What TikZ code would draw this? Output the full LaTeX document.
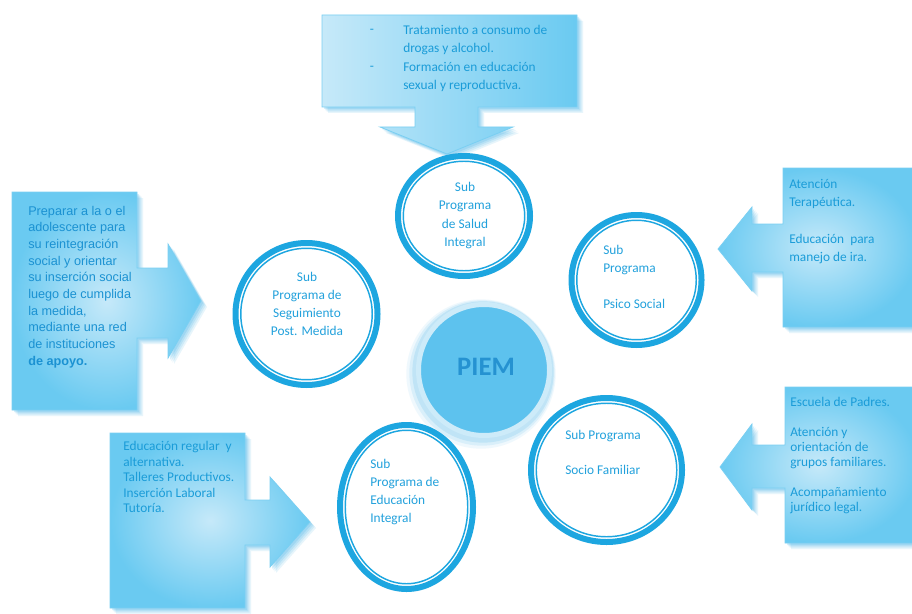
\documentclass[tikz,border=0pt]{standalone}
\usepackage{fontspec}
\setmainfont{Carlito}
\newfontfamily\arialf{Liberation Sans}
\usetikzlibrary{shapes.geometric}
\definecolor{ringc}{HTML}{1DA6E0}
\definecolor{circtxt}{HTML}{22A1DC}
\definecolor{calltxt}{HTML}{1A9CD8}
\definecolor{lefttxt}{HTML}{1B92D2}
\definecolor{boxlight}{HTML}{C6E9F9}
\definecolor{boxdark}{HTML}{6ACAF1}
\definecolor{boxedge}{HTML}{7ACFF2}
\definecolor{shadowc}{HTML}{3FB0E6}
\definecolor{piemfill}{HTML}{5DC2EE}
\definecolor{piemring}{HTML}{CDEBF9}
\definecolor{piemtxt}{HTML}{2592D1}
\tikzset{
  calloutshape/.style={
    preaction={fill=shadowc, opacity=0.12, transform canvas={shift={(4.5pt,-4.5pt)}}},
    preaction={fill=shadowc, opacity=0.14, transform canvas={shift={(3.5pt,-3.5pt)}}},
    preaction={fill=shadowc, opacity=0.16, transform canvas={shift={(2.5pt,-2.5pt)}}},
    preaction={fill=shadowc, opacity=0.2, transform canvas={shift={(1.5pt,-1.5pt)}}},
    draw=boxedge, line width=0.6pt},
  radialbox/.style={calloutshape, inner color=boxlight, outer color=boxdark},
  axisbox/.style={calloutshape, left color=boxlight, right color=boxdark},
  ring/.style={ellipse, draw=ringc, line width=4.5pt, fill=white, inner sep=0pt},
  innerring/.style={draw=ringc, line width=1.1pt},
  circtext/.style={text=circtxt, inner sep=0pt, font=\fontsize{10}{13.5}\selectfont},
  calltext/.style={text=calltxt, inner sep=0pt, align=left, anchor=west}
}
\begin{document}
\begin{tikzpicture}[x=0.75pt,y=-0.75pt]
\useasboundingbox (0,0) rectangle (912,613);
\fill[white] (0,0) rectangle (912,613);

% ---- callout arrows ----
\path[axisbox] (322,15) -- (577,15) -- (577,107) -- (478,107) -- (478,127) -- (513,127)
  -- (447,154) -- (380,127) -- (415,127) -- (415,107) -- (322,107) -- cycle;
\path[radialbox] (12,192) -- (137,192) -- (137,268) -- (168,268) -- (168,244) -- (201,301)
  -- (168,358) -- (168,338) -- (137,338) -- (137,410) -- (12,410) -- cycle;
\path[radialbox] (918,168) -- (783,168) -- (783,224) -- (752,224) -- (752,207) -- (718,249)
  -- (752,291) -- (752,272) -- (783,272) -- (783,327) -- (918,327) -- cycle;
\path[radialbox] (918,387) -- (785,387) -- (785,445) -- (752,445) -- (752,424) -- (720,467)
  -- (752,510) -- (752,488) -- (785,488) -- (785,543) -- (918,543) -- cycle;
\path[radialbox] (110,433) -- (245,433) -- (245,500) -- (270,500) -- (270,477) -- (310,522)
  -- (270,567) -- (270,545) -- (245,545) -- (245,608) -- (110,608) -- cycle;

% ---- callout texts ----
\node[text=calltxt, inner sep=0pt] (dash1) at (372,31) {-};
\node[text=calltxt, inner sep=0pt] (dash2) at (372,68) {-};
\node[calltext, font=\fontsize{10}{13.6}\selectfont] (toptxt) at (403,58.5)
  {Tratamiento a consumo de\\drogas y alcohol.\\Formación en educación\\sexual y reproductiva.};
\node[calltext, text=lefttxt, font=\arialf\fontsize{9.5}{12.5}\selectfont] (lefttext) at (28,287)
  {Preparar a la o el\\adolescente para\\su reintegración\\social y orientar\\su inserción social\\luego de cumplida\\la medida,\\mediante una red\\de instituciones\\\textbf{de apoyo.}};
\node[calltext, font=\fontsize{10}{13.5}\selectfont] (rtoptxt) at (789,221.5)
  {Atención\\Terapéutica.\\[13.8pt]Educación~~para\\manejo de ira.};
\node[calltext, font=\fontsize{10}{11.25}\selectfont] (rbottxt) at (790,455.5)
  {Escuela de Padres.\\[10.9pt]Atención y\\orientación de\\grupos familiares.\\[10.9pt]Acompañamiento\\jurídico legal.};
\node[calltext, font=\fontsize{10}{11.6}\selectfont] (lbottxt) at (123,477)
  {Educación regular~~y\\alternativa.\\Talleres Productivos.\\Inserción Laboral\\Tutoría.};

% ---- sub-program rings ----
\node[ring, minimum width=99pt, minimum height=90pt] (salud) at (464,216) {};
\draw[innerring] (salud.center) ellipse [x radius=45.56pt, y radius=41.06pt];
\node[ring, minimum width=97.5pt, minimum height=97.5pt] (psico) at (636.5,280) {};
\draw[innerring] (psico.center) ellipse [x radius=44.8pt, y radius=44.8pt];
\node[ring, minimum width=113.25pt, minimum height=108pt] (socio) at (606.5,470) {};
\draw[innerring] (socio.center) ellipse [x radius=52.7pt, y radius=50.06pt];
\node[ring, minimum width=99.75pt, minimum height=123pt] (educ) at (406.5,507) {};
\draw[innerring] (educ.center) ellipse [x radius=45.94pt, y radius=57.56pt];
\node[ring, minimum width=106.5pt, minimum height=106.5pt] (segui) at (306.5,314) {};
\draw[innerring] (segui.center) ellipse [x radius=49.3pt, y radius=49.3pt];

% ---- PIEM ----
\fill[shadowc, opacity=0.08] (481,374) circle [radius=56pt];
\fill[shadowc, opacity=0.12] (482,373) circle [radius=54.5pt];
\fill[shadowc, opacity=0.16] (483,372) circle [radius=53pt];
\node[circle, fill=piemfill, draw=piemring, line width=3.75pt, minimum size=98.25pt, inner sep=0pt] (piem) at (484,370) {};
\node[text=piemtxt, font=\bfseries\fontsize{20}{24}\selectfont, inner sep=0pt] (piemlabel) at (486,367) {PIEM};

% ---- ring texts ----
\node[circtext, align=center, font=\fontsize{10}{13.75}\selectfont] (saludtxt) at (465,215.5)
  {Sub\\Programa\\de Salud\\Integral};
\node[circtext, align=center] (seguitxt) at (307,304)
  {Sub\\Programa de\\Seguimiento\\Post. Medida};
\node[circtext, align=left, anchor=west] (psicotxt) at (603,276.5)
  {Sub\\Programa\\[13.5pt]Psico Social};
\node[circtext, align=left, anchor=west, font=\fontsize{10}{13.1}\selectfont] (sociotxt) at (565,452.5)
  {Sub Programa\\[13.1pt]Socio Familiar};
\node[circtext, align=left, anchor=west] (eductxt) at (370,492)
  {Sub\\Programa de\\Educación\\Integral};
\end{tikzpicture}
\end{document}
